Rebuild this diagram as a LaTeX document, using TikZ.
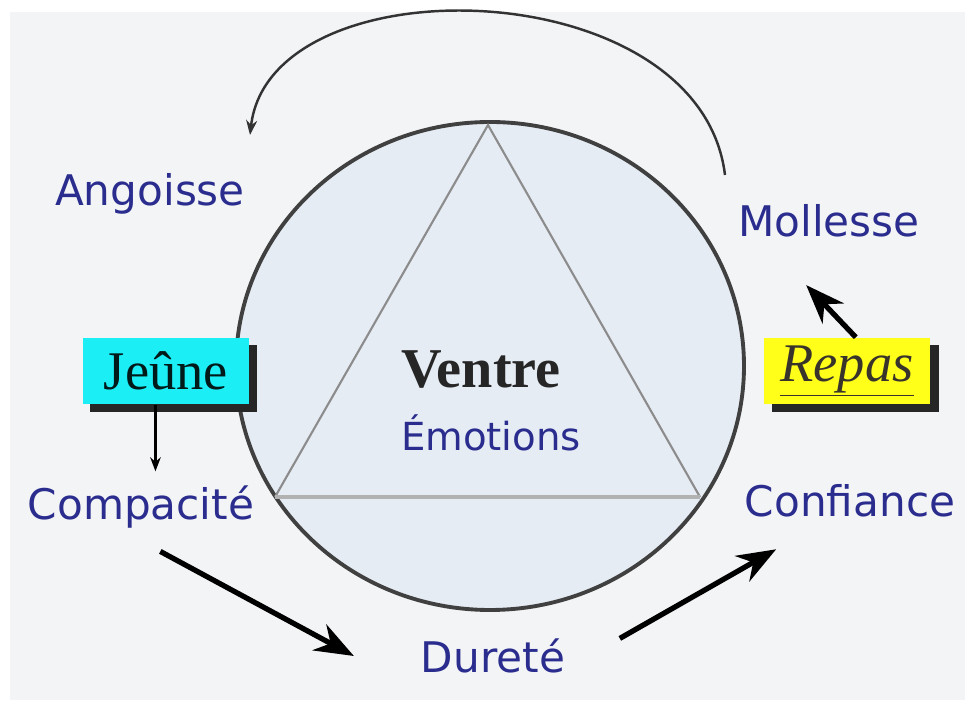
\documentclass[tikz,border=0pt]{standalone}
\usepackage{fontspec}
\setmainfont{Liberation Serif}
\newfontfamily\labelfont{DejaVu Sans}
\usetikzlibrary{arrows.meta, positioning}

\definecolor{labelblue}{HTML}{2A2D8E}
\definecolor{pagegray}{HTML}{F3F4F6}
\definecolor{bellyfill}{HTML}{E6ECF4}
\definecolor{boxcyan}{HTML}{1CEEF6}
\definecolor{boxyellow}{HTML}{FFFF1A}

\begin{document}
\begin{tikzpicture}[
    x=0.02cm, y=-0.02cm,
    state/.style={font=\labelfont\fontsize{24}{28}\selectfont, text=labelblue, inner sep=1pt},
    food/.style={inner sep=3pt, minimum width=167*0.567pt, minimum height=67*0.567pt, font=\fontsize{31}{34}\selectfont},
    shadow/.style={fill=black!85},
    arrow/.style={-{Stealth[scale=1.35]}, line width=3pt},
    thinarrow/.style={-{Stealth[scale=0.9]}, line width=1.3pt}
]

% Background
\fill[white] (0,0) rectangle (965,715);
\fill[pagegray] (10,12) rectangle (965,700);
\useasboundingbox (0,0) rectangle (965,715);

% Circle
\draw[line width=2.2pt, fill=bellyfill, draw=black!75] (490,366) ellipse [x radius=254, y radius=244];

% Triangle
\coordinate (apex) at (488,125);
\coordinate (baseL) at (275,497);
\coordinate (baseR) at (700,497);
\draw[black!45, line width=1.2pt] (baseL) -- (apex) -- (baseR);
\draw[black!30, line width=2.5pt] (baseL) -- (baseR);

% Centre
\node[font=\bfseries\fontsize{32}{36}\selectfont, text=black!85] (ventre) at (481,370) {Ventre};
\node[state, font=\labelfont\fontsize{22}{26}\selectfont] (emotions) at (491,433) {Émotions};

% States
\node[state] (angoisse) at (150,194) {Angoisse};
\node[state] (mollesse) at (829,221) {Mollesse};
\node[state] (compacite) at (141,507) {Compacité};
\node[state] (confiance) at (850,501) {Confiance};
\node[state] (durete) at (493,656) {Dureté};

% Food boxes
\fill[shadow] (90,345) rectangle (257,412);
\node[food, fill=boxcyan, text=black!80!teal] (jeune) at (166,371) {Jeûne};
\fill[shadow] (772,345) rectangle (939,412);
\node[food, fill=boxyellow, text=black!80!olive] (repas) at (847,371) {\itshape\underline{Repas}};

% Top curve
\coordinate (mollTop) at (725,175);
\coordinate (angTop) at (250,135);
\draw[-{Stealth[scale=0.9]}, line width=1.4pt, black!80] (mollTop) .. controls (700,-30) and (270,-40) .. (angTop);

% Arrows
\draw[thinarrow, shorten >=7pt] ([xshift=-6pt]jeune.south) -- ([xshift=-6pt]jeune.south |- compacite.north);
\draw[arrow] ([xshift=5pt]repas.north) -- ([xshift=-13pt,yshift=-26pt]mollesse.south);
\draw[arrow] ([xshift=11pt,yshift=-12pt]compacite.south) -- ([xshift=-37pt]durete.west);
\draw[arrow] ([xshift=30pt,yshift=10pt]durete.east) -- ([xshift=19pt,yshift=-17pt]confiance.south west);

\end{tikzpicture}
\end{document}
